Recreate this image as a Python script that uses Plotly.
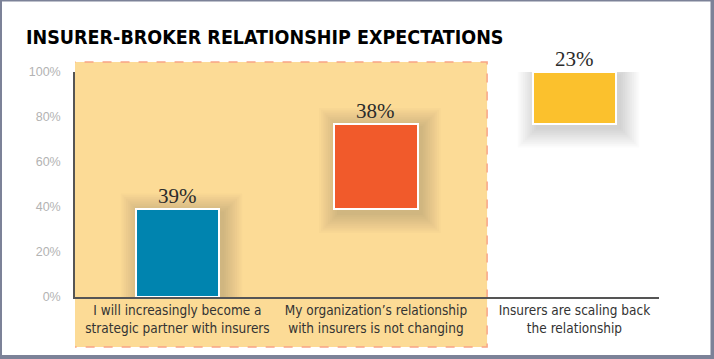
import plotly.graph_objects as go

categories = [
    "I will increasingly become a<br>strategic partner with insurers",
    "My organization’s relationship<br>with insurers is not changing",
    "Insurers are scaling back<br>the relationship",
]
values = [39, 38, 23]
bar_colors = ["#0084AF", "#F15A2B", "#FBC12D"]
y_tickvals = [0, 20, 40, 60, 80, 100]
y_ticktext = ["0%", "20%", "40%", "60%", "80%", "100%"]
title_text = "INSURER-BROKER RELATIONSHIP EXPECTATIONS"

W, H = 714, 359
L, R, T, B = 75, 55, 72, 62
x_pos = list(range(len(categories)))
bases = [sum(values[:i]) for i in range(len(values))]
tops = [b + v for b, v in zip(bases, values)]

pw = W - L - R
ph = H - T - B
COND = "Liberation Sans Narrow, DejaVu Sans Condensed, Roboto Condensed, sans-serif"


def px_x(p):
    return (p - L) / pw


def px_y(p):
    return (H - B - p) / ph


fig = go.Figure()
fig.add_trace(go.Bar(
    x=x_pos, y=values, base=bases, width=0.42,
    marker=dict(color=bar_colors, line=dict(color="white", width=2)),
    hoverinfo="skip", showlegend=False,
))

shapes = []
# highlight region around first two categories
shapes.append(dict(type="rect", xref="x", yref="paper",
                   x0=-0.553, x1=1.56, y0=px_y(347), y1=px_y(62),
                   fillcolor="#FCDB96", line=dict(color="#F8A487", width=1.5, dash="dash"),
                   layer="below"))
# soft shadows
for xi, b, t in zip(x_pos, bases, tops):
    hpx = (t - b) * ph / 100
    for k in range(1, 12):
        e = k * 1.8
        shapes.append(dict(type="rect", xref="x", yref="y",
                           xsizemode="pixel", ysizemode="pixel",
                           xanchor=xi, yanchor=b,
                           x0=-41 - e + 4, x1=41 + e + 4,
                           y0=-e - 4, y1=hpx + e - 4,
                           fillcolor="rgba(70,60,40,0.018)", line=dict(width=0),
                           layer="below"))
# outer frame
fc = "#7C8298"
shapes += [
    dict(type="rect", xref="paper", yref="paper", x0=px_x(0), x1=px_x(2), y0=px_y(359), y1=px_y(0),
         fillcolor=fc, line=dict(width=0)),
    dict(type="rect", xref="paper", yref="paper", x0=px_x(0), x1=px_x(714), y0=px_y(1.5), y1=px_y(0),
         fillcolor=fc, line=dict(width=0)),
    dict(type="rect", xref="paper", yref="paper", x0=px_x(710.5), x1=px_x(714), y0=px_y(359), y1=px_y(0),
         fillcolor=fc, line=dict(width=0)),
    dict(type="rect", xref="paper", yref="paper", x0=px_x(0), x1=px_x(714), y0=px_y(359), y1=px_y(355),
         fillcolor=fc, line=dict(width=0)),
]

annotations = []
for xi, t, v in zip(x_pos, tops, values):
    annotations.append(dict(x=xi, y=t, xref="x", yref="y", text=f"{v}%", showarrow=False,
                            yanchor="bottom", yshift=-1,
                            font=dict(family="Liberation Serif, serif", size=21, color="#2b2b2b")))

fig.update_layout(
    width=W, height=H,
    margin=dict(l=L, r=R, t=T, b=B, pad=0, autoexpand=False),
    paper_bgcolor="white", plot_bgcolor="rgba(0,0,0,0)",
    title=dict(text=f"<b>{title_text}</b>", xref="container", yref="container",
               x=26 / W, xanchor="left", y=1 - 37 / H, yanchor="middle",
               font=dict(family=COND, size=19.5, color="black")),
    shapes=shapes,
    annotations=annotations,
    xaxis=dict(range=[-0.516, 2.426], tickvals=x_pos, ticktext=categories,
               showline=True, linecolor="#555", linewidth=1.5, showgrid=False, zeroline=False,
               ticks="", tickangle=0, automargin=False,
               tickfont=dict(family=COND, size=13.5, color="#333")),
    yaxis=dict(range=[0, 100], tickvals=y_tickvals, ticktext=y_ticktext,
               showline=True, linecolor="#555", linewidth=1.5, showgrid=False, zeroline=False,
               ticks="outside", ticklen=10, tickcolor="rgba(0,0,0,0)", automargin=False,
               tickfont=dict(family="Liberation Sans, sans-serif", size=12.5, color="#B3B3B3")),
    bargap=0,
)
fig.update_traces(cliponaxis=False)
fig.write_html("out.html", config={"displayModeBar": False},
               post_script="document.body.style.margin='0';document.body.style.overflow='hidden';")
